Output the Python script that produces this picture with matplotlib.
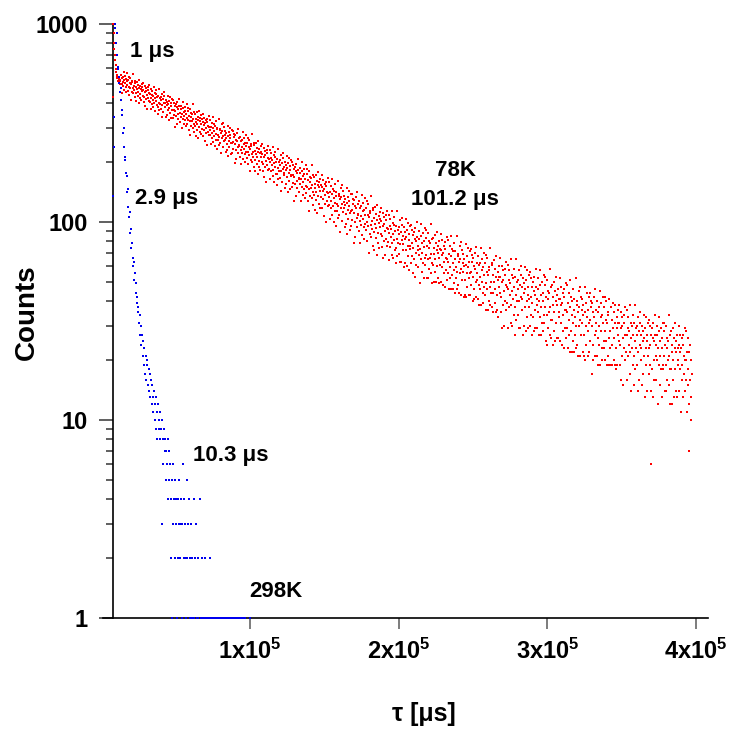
import numpy as np
import matplotlib
matplotlib.use("Agg")
import matplotlib.pyplot as plt
from matplotlib.ticker import LogLocator, NullFormatter

# Photoluminescence decay counts, one value per time channel
# 78K trace: channels from 7.8e3 to 3.97e5 us
counts_78k = [
    428, 1000, 900, 802, 745, 697, 655, 621, 595, 572, 555, 540, 532, 518, 541, 509, 527, 503, 520, 498,
    517, 473, 554, 496, 534, 447, 511, 540, 488, 575, 465, 523, 502, 549, 482, 528, 456, 514, 563, 491,
    461, 521, 481, 541, 438, 501, 473, 533, 415, 495, 513, 453, 507, 475, 558, 447, 484, 464, 518, 430,
    504, 448, 409, 482, 468, 512, 434, 456, 493, 400, 476, 521, 445, 423, 487, 470, 414, 498, 459, 479,
    433, 463, 501, 406, 427, 452, 485, 386, 457, 416, 474, 438, 373, 466, 479, 422, 447, 493, 408, 444,
    404, 471, 425, 372, 439, 396, 457, 415, 433, 380, 481, 401, 449, 423, 364, 444, 409, 463, 388, 428,
    352, 432, 383, 401, 367, 469, 393, 422, 372, 427, 411, 339, 445, 391, 417, 359, 453, 398, 435, 380,
    397, 380, 415, 339, 390, 405, 346, 367, 435, 395, 326, 410, 377, 357, 428, 387, 400, 334, 369, 420,
    367, 334, 411, 369, 347, 399, 386, 302, 362, 394, 342, 379, 314, 404, 374, 352, 332, 419, 384, 357,
    355, 319, 387, 338, 370, 297, 350, 375, 331, 404, 312, 360, 343, 382, 326, 365, 304, 353, 394, 334,
    312, 362, 329, 378, 293, 345, 322, 371, 274, 341, 355, 305, 350, 324, 393, 300, 331, 314, 359, 286,
    351, 304, 272, 332, 321, 358, 293, 311, 341, 265, 328, 365, 302, 284, 337, 323, 277, 346, 314, 330,
    294, 319, 351, 272, 290, 310, 337, 256, 315, 281, 328, 299, 245, 321, 333, 285, 306, 344, 274, 303,
    274, 329, 291, 247, 302, 267, 318, 283, 298, 254, 338, 272, 311, 289, 241, 307, 278, 322, 261, 294,
    233, 300, 259, 274, 246, 330, 268, 291, 250, 296, 283, 222, 311, 265, 287, 240, 317, 272, 302, 257,
    274, 259, 288, 225, 267, 280, 232, 248, 305, 272, 215, 284, 257, 240, 299, 265, 276, 221, 251, 293,
    251, 224, 288, 253, 235, 278, 268, 198, 247, 274, 231, 261, 208, 282, 257, 239, 222, 294, 265, 243,
    244, 214, 270, 230, 256, 196, 240, 260, 224, 284, 208, 248, 234, 266, 220, 252, 202, 242, 276, 226,
    211, 252, 225, 266, 196, 239, 219, 260, 180, 235, 247, 205, 243, 221, 278, 201, 227, 213, 250, 190,
    245, 206, 180, 229, 220, 250, 197, 212, 237, 174, 226, 256, 204, 189, 233, 222, 183, 241, 214, 227,
    200, 221, 247, 182, 197, 213, 236, 169, 217, 189, 228, 204, 159, 223, 232, 193, 210, 241, 184, 208,
    186, 232, 201, 164, 210, 181, 223, 193, 206, 170, 239, 184, 217, 199, 159, 213, 190, 226, 175, 202,
    153, 208, 175, 187, 164, 233, 182, 201, 167, 205, 194, 144, 217, 180, 198, 159, 223, 185, 210, 173,
    189, 177, 202, 149, 184, 195, 155, 169, 216, 188, 141, 198, 176, 162, 210, 183, 191, 146, 170, 205,
    172, 150, 202, 173, 158, 194, 185, 128, 168, 190, 155, 180, 136, 197, 177, 162, 148, 207, 184, 165,
    167, 142, 188, 155, 177, 127, 164, 180, 150, 200, 137, 170, 159, 185, 147, 174, 132, 165, 193, 152,
    140, 174, 151, 185, 127, 163, 147, 180, 114, 159, 169, 135, 166, 148, 195, 132, 153, 142, 172, 122,
    169, 137, 115, 156, 148, 173, 129, 142, 162, 111, 153, 178, 136, 123, 159, 150, 118, 165, 143, 154,
    133, 150, 172, 118, 130, 144, 163, 107, 147, 124, 156, 137, 100, 152, 159, 127, 141, 167, 120, 140,
    122, 159, 134, 104, 141, 118, 152, 128, 139, 109, 165, 121, 147, 132, 100, 144, 125, 155, 113, 136,
    96, 141, 114, 124, 105, 162, 120, 136, 108, 139, 130, 89, 149, 118, 133, 101, 153, 123, 143, 112,
    126, 117, 136, 94, 122, 131, 98, 110, 148, 125, 87, 133, 115, 104, 143, 121, 128, 91, 111, 139,
    113, 95, 138, 115, 102, 131, 124, 78, 111, 129, 100, 120, 84, 134, 118, 105, 94, 142, 123, 108,
    110, 90, 127, 101, 118, 78, 107, 121, 97, 137, 86, 113, 103, 125, 94, 115, 82, 109, 132, 98,
    91, 118, 100, 127, 80, 109, 96, 123, 70, 106, 114, 87, 111, 97, 135, 84, 101, 92, 117, 76,
    115, 89, 72, 105, 98, 119, 83, 93, 110, 68, 102, 122, 88, 78, 107, 99, 74, 112, 94, 103,
    87, 101, 118, 75, 85, 96, 111, 66, 98, 80, 106, 90, 68, 102, 108, 82, 93, 114, 76, 92,
    79, 109, 88, 64, 95, 75, 103, 84, 92, 68, 114, 78, 99, 87, 66, 97, 81, 106, 72, 90,
    62, 96, 74, 82, 67, 113, 78, 91, 69, 94, 87, 63, 102, 77, 89, 63, 105, 81, 97, 72,
    85, 77, 94, 59, 82, 89, 62, 72, 103, 84, 60, 91, 76, 67, 99, 81, 87, 57, 73, 96,
    76, 62, 97, 78, 67, 91, 86, 55, 74, 89, 65, 82, 53, 93, 80, 70, 61, 100, 84, 72,
    76, 59, 90, 68, 82, 49, 73, 85, 65, 98, 56, 78, 70, 88, 62, 80, 52, 75, 93, 66,
    61, 83, 68, 91, 52, 76, 65, 88, 52, 74, 80, 58, 78, 66, 98, 55, 69, 62, 82, 49,
    83, 61, 50, 74, 69, 86, 56, 65, 78, 50, 72, 89, 60, 52, 76, 70, 49, 80, 66, 73,
    61, 72, 87, 50, 59, 68, 81, 48, 70, 55, 76, 63, 47, 73, 79, 57, 66, 84, 51, 65,
    55, 81, 63, 46, 69, 52, 76, 59, 67, 46, 85, 54, 73, 62, 46, 71, 57, 78, 49, 65,
    44, 71, 52, 59, 46, 85, 56, 67, 48, 69, 63, 44, 76, 55, 65, 43, 79, 58, 72, 51,
    62, 56, 69, 42, 60, 65, 43, 51, 77, 61, 42, 67, 55, 47, 74, 59, 63, 43, 52, 71,
    55, 43, 73, 56, 48, 68, 63, 40, 53, 66, 46, 60, 41, 70, 58, 50, 42, 75, 62, 51,
    55, 41, 67, 48, 61, 38, 53, 62, 46, 74, 38, 57, 50, 65, 44, 59, 39, 54, 70, 47,
    43, 62, 49, 68, 36, 56, 46, 66, 36, 54, 59, 40, 57, 47, 74, 38, 50, 44, 61, 37,
    62, 44, 35, 54, 50, 64, 39, 46, 58, 35, 53, 67, 43, 36, 56, 51, 33, 60, 47, 53,
    44, 53, 66, 35, 42, 50, 60, 29, 51, 38, 57, 45, 30, 54, 58, 40, 48, 63, 36, 47,
    39, 61, 46, 29, 51, 37, 57, 43, 49, 31, 65, 38, 54, 45, 30, 52, 41, 58, 34, 47,
    27, 53, 37, 43, 32, 65, 40, 50, 34, 51, 46, 29, 57, 40, 48, 29, 60, 42, 54, 36,
    47, 41, 52, 27, 44, 49, 30, 37, 59, 46, 28, 51, 40, 33, 57, 43, 47, 29, 37, 54,
    41, 30, 56, 42, 34, 52, 47, 27, 39, 50, 33, 45, 28, 53, 43, 36, 29, 58, 47, 38,
    41, 29, 52, 35, 46, 27, 40, 48, 33, 57, 27, 43, 37, 50, 31, 44, 28, 40, 54, 34,
    31, 48, 37, 53, 25, 42, 34, 51, 24, 41, 45, 29, 44, 35, 58, 27, 37, 32, 47, 26,
    48, 32, 24, 42, 38, 50, 28, 35, 45, 25, 40, 53, 31, 26, 43, 38, 26, 46, 35, 41,
    33, 41, 52, 25, 31, 38, 47, 24, 39, 28, 44, 34, 23, 42, 46, 29, 36, 49, 26, 36,
    29, 48, 35, 23, 39, 27, 44, 32, 37, 22, 51, 28, 42, 34, 22, 40, 31, 46, 25, 36,
    22, 41, 27, 33, 23, 52, 30, 38, 24, 40, 35, 21, 45, 30, 37, 21, 47, 32, 42, 27,
    36, 31, 41, 22, 34, 38, 21, 27, 47, 35, 20, 39, 30, 24, 44, 33, 36, 21, 28, 42,
    31, 22, 44, 32, 25, 40, 37, 17, 30, 39, 24, 35, 20, 42, 33, 27, 21, 46, 36, 28,
    31, 21, 40, 26, 35, 19, 30, 37, 24, 45, 19, 33, 28, 39, 23, 34, 20, 31, 42, 25,
    23, 37, 28, 42, 20, 32, 25, 40, 19, 31, 35, 21, 34, 26, 41, 19, 28, 23, 37, 19,
    37, 24, 19, 32, 29, 39, 20, 26, 35, 19, 31, 38, 23, 18, 33, 29, 19, 36, 27, 31,
    25, 31, 38, 19, 24, 29, 35, 16, 30, 21, 33, 26, 15, 31, 34, 23, 27, 37, 20, 27,
    22, 36, 27, 16, 29, 21, 33, 24, 28, 17, 38, 22, 31, 26, 14, 30, 23, 34, 19, 27,
    15, 31, 21, 25, 18, 38, 23, 29, 19, 30, 27, 14, 33, 22, 28, 16, 35, 24, 31, 20,
    27, 23, 30, 15, 25, 28, 17, 21, 34, 26, 13, 29, 23, 19, 33, 25, 27, 14, 21, 31,
    23, 17, 32, 24, 19, 30, 27, 14, 6, 29, 18, 26, 13, 31, 25, 20, 16, 34, 27, 21,
    24, 16, 30, 20, 27, 12, 23, 28, 19, 33, 15, 25, 21, 29, 18, 26, 13, 23, 31, 19,
    18, 28, 21, 31, 14, 24, 19, 30, 14, 23, 26, 16, 25, 20, 34, 15, 21, 18, 27, 12,
    28, 18, 12, 24, 22, 29, 16, 20, 26, 13, 23, 31, 18, 14, 25, 22, 13, 27, 20, 23,
    19, 24, 30, 14, 18, 22, 27, 11, 23, 16, 26, 19, 13, 24, 27, 17, 21, 29, 14, 20,
    16, 28, 20, 11, 22, 15, 26, 18, 22, 12, 7, 16, 24, 20, 13, 10, 17,
]

# 298K trace: channels from 7.8e3 to 1e5 us (zero counts are not drawn)
counts_298k = [
    135, 239, 339, 1000,
    955, 802, 900, 697, 606, 590, 540, 505, 454, 475, 413, 347, 368, 281, 300, 239, 213,
    206, 176, 171, 141, 147, 119, 106, 112, 88, 92, 74, 78, 66, 60, 63, 51, 55, 44, 49, 39,
    42, 35, 37, 31, 34, 27, 30, 24, 27, 21, 25, 19, 23, 17, 21, 16, 19, 20, 15, 18,
    14, 17, 13, 16, 12, 15, 11, 13, 14, 10, 12, 9, 13, 11, 8, 12, 10, 9, 11, 8,
    9, 3, 10, 8, 6, 9, 7, 8, 5, 7, 6, 8, 4, 7, 5, 6, 4, 2, 1, 5,
    6, 3, 4, 2, 5, 4, 3, 1, 4, 2, 5, 3, 2, 4, 3, 1, 3, 6, 2, 4,
    2, 3, 1, 5, 2, 0, 3, 4, 1, 2, 0, 3, 1, 2, 0, 4, 1, 2, 0, 3,
    1, 0, 2, 1, 0, 0, 4, 1, 0, 2, 1, 0, 0, 1, 2, 0, 1, 0, 0, 1,
    0, 1, 0, 2, 0, 1, 0, 0, 1, 0, 1, 0, 0, 1, 0, 1, 0, 0, 1, 0,
    1, 0, 0, 1, 0, 1, 0, 0, 1, 0, 0, 1, 0, 0, 1, 0, 1, 0, 0, 1,
    0, 0, 1, 0, 1, 0, 0, 0, 1, 0, 0, 1, 0, 0, 0, 1, 0, 0, 1, 0,
    0, 0, 1, 0, 0, 0, 0, 0, 0, 0, 1,
]

x_ticks = [1e5, 2e5, 3e5, 4e5]
x_tick_labels = ["1x10$^5$", "2x10$^5$", "3x10$^5$", "4x10$^5$"]
y_ticks = [1, 10, 100, 1000]
y_tick_labels = ["1", "10", "100", "1000"]

# time channels (evenly spaced)
t_78k = np.linspace(7800, 397000, len(counts_78k))
t_298k = np.linspace(7800, 100000, len(counts_298k))

plt.rcParams["font.family"] = "Liberation Sans"
plt.rcParams["font.weight"] = "bold"
plt.rcParams["mathtext.fontset"] = "custom"
plt.rcParams["mathtext.rm"] = "Liberation Sans:bold"
plt.rcParams["mathtext.it"] = "Liberation Sans:bold"
plt.rcParams["mathtext.bf"] = "Liberation Sans:bold"

W, H = 738, 730
fig = plt.figure(figsize=(W / 100, H / 100), dpi=100)
ax = fig.add_axes([103 / W, 1 - 618 / H, 605 / W, 594 / H])

red = np.array(counts_78k, dtype=float)
blue = np.array(counts_298k, dtype=float)
keep = blue > 0

ax.plot(t_78k, red, "s", ms=1.7, mew=0, color="#ff0000", clip_on=False, zorder=3)
ax.plot(t_298k[keep], blue[keep], "s", ms=1.7, mew=0, color="#0000ee", clip_on=False, zorder=3)

ax.set_yscale("log")
ax.set_ylim(1, 1000)
ax.set_xlim(1100, 408000)

# only left / bottom axis lines, y axis sits at the first channel
ax.spines["top"].set_visible(False)
ax.spines["right"].set_visible(False)
ax.spines["left"].set_position(("data", 7800))
ax.spines["left"].set_linewidth(1.2)
ax.spines["bottom"].set_linewidth(1.2)

ax.set_xticks(x_ticks, x_tick_labels)
ax.set_yticks(y_ticks, y_tick_labels)
ax.yaxis.set_minor_locator(LogLocator(base=10, subs=np.arange(2, 10)))
ax.yaxis.set_minor_formatter(NullFormatter())
ax.tick_params(axis="y", which="major", length=10, width=1.2, color="#444444", pad=8, labelsize=17)
ax.tick_params(axis="y", which="minor", length=5, width=1.2, color="#444444")
ax.tick_params(axis="x", which="major", length=8, width=1.2, color="#666666", pad=7, labelsize=17)
ax.tick_params(axis="x", which="minor", length=0)

# axis titles
fig.text(27 / W, 1 - 312 / H, "Counts", rotation=90, ha="center", va="center", fontsize=20)
fig.text(424 / W, 1 - 714 / H, "τ [μs]", ha="center", va="center", fontsize=18)

# lifetime labels
fig.text(130 / W, 1 - 57 / H, "1 μs", ha="left", va="baseline", fontsize=16)
fig.text(135 / W, 1 - 204 / H, "2.9 μs", ha="left", va="baseline", fontsize=16)
fig.text(193 / W, 1 - 461 / H, "10.3 μs", ha="left", va="baseline", fontsize=16)
fig.text(249 / W, 1 - 597 / H, "298K", ha="left", va="baseline", fontsize=16)
fig.text(456 / W, 1 - 176 / H, "78K", ha="center", va="baseline", fontsize=16)
fig.text(455 / W, 1 - 205 / H, "101.2 μs", ha="center", va="baseline", fontsize=16)

fig.savefig("out.png", dpi=100)
